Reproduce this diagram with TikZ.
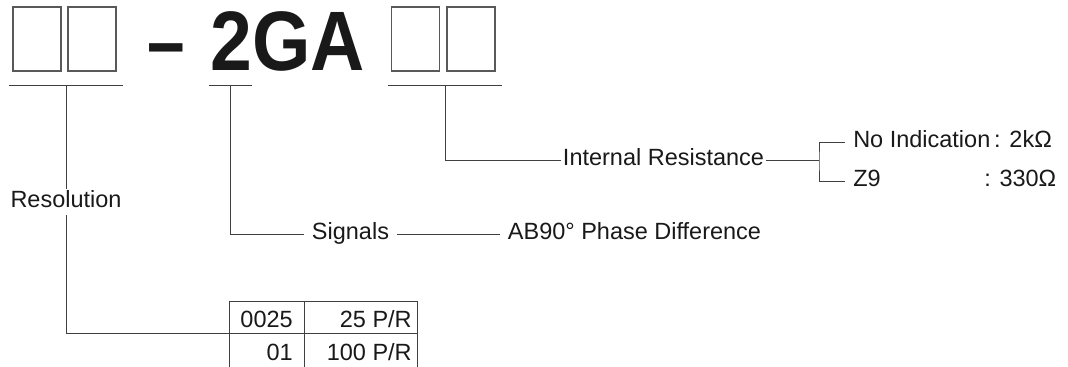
\documentclass[tikz,border=0pt]{standalone}
\usepackage{fontspec}
\setmainfont{Liberation Sans}
\usepackage{tikz}
\newcommand{\lbl}{\fontsize{16.7}{20}\selectfont}
\newcommand{\codefont}{\bfseries\fontsize{60}{60}\selectfont}

\begin{document}
\begin{tikzpicture}[x=0.025cm, y=-0.025cm,
        codebox/.style={draw=black!65, line width=0.8pt, minimum width=1.2cm, minimum height=1.6cm, inner sep=0pt},
        lead/.style={draw=black!75, line width=0.7pt},
        txt/.style={font=\lbl, text=black!90, inner sep=0.2cm, text height=0.72em, text depth=0pt},
        cell/.style={font=\lbl, text=black!90, inner sep=0pt, anchor=base east}]
        \useasboundingbox (0,0) rectangle (1068,367);

        % Draw the empty code boxes and the fixed part of the code
        \node[codebox] (b1) at (37,39) {};
        \node[codebox] (b2) at (92,39) {};
        \node[font=\codefont, text=black!90, anchor=base, inner sep=0pt] (dash) at (166,71) {\scalebox{0.8}[1]{–}};
        \node[font=\codefont, text=black!90, anchor=base, inner sep=0pt] (code) at (287.5,71) {\scalebox{0.89}[1]{2GA}};
        \node[codebox] (b3) at (415.5,39) {};
        \node[codebox] (b4) at (471,39) {};

        % Draw the lines under each field
        \draw[lead] (9,85) -- (123,85);
        \draw[lead] (209,85) -- (252,85);
        \draw[lead] (388,85) -- (502,85);
        \coordinate (r0) at (66,85);
        \coordinate (s0) at (230,85);
        \coordinate (i0) at (445,85);

        % Resolution and its table
        \node[txt] (res) at (66,202) {Resolution};
        \coordinate (tl) at (229,333);
        \draw[lead] (r0) -- (res);
        \draw[lead] (res) |- (tl);
        \draw[lead] (229,367) -- (229,301) -- (417,301) -- (417,367);
        \draw[lead] (304,301) -- (304,367);
        \draw[lead] (tl) -- (417,333);
        \node[cell] (c11) at (293,327) {0025};
        \node[cell] (c12) at (412,327) {25 P/R};
        \node[cell] (c21) at (293,361) {01};
        \node[cell] (c22) at (412,361) {100 P/R};

        % Signals
        \node[txt] (sig) at (350.5,234) {Signals};
        \node[txt] (ab) at (634.5,234) {AB90° Phase Difference};
        \draw[lead] (s0) |- (sig);
        \draw[lead] (sig) -- (ab);

        % Internal resistance
        \node[txt, inner sep=1.5pt] (ir) at (663.5,160) {Internal Resistance};
        \coordinate (br) at (819,160);
        \node[txt, anchor=west] (noind) at (845,142) {No Indication\,: 2kΩ};
        \node[txt, anchor=west] (z9) at (845,181) {Z9};
        \node[txt, anchor=west] (z9v) at (976,181) {: 330Ω};
        \draw[lead] (i0) |- (ir);
        \draw[lead] (ir) -- (br);
        \draw[lead] (noind.west) -| (br) |- (z9.west);
    \end{tikzpicture}
\end{document}
